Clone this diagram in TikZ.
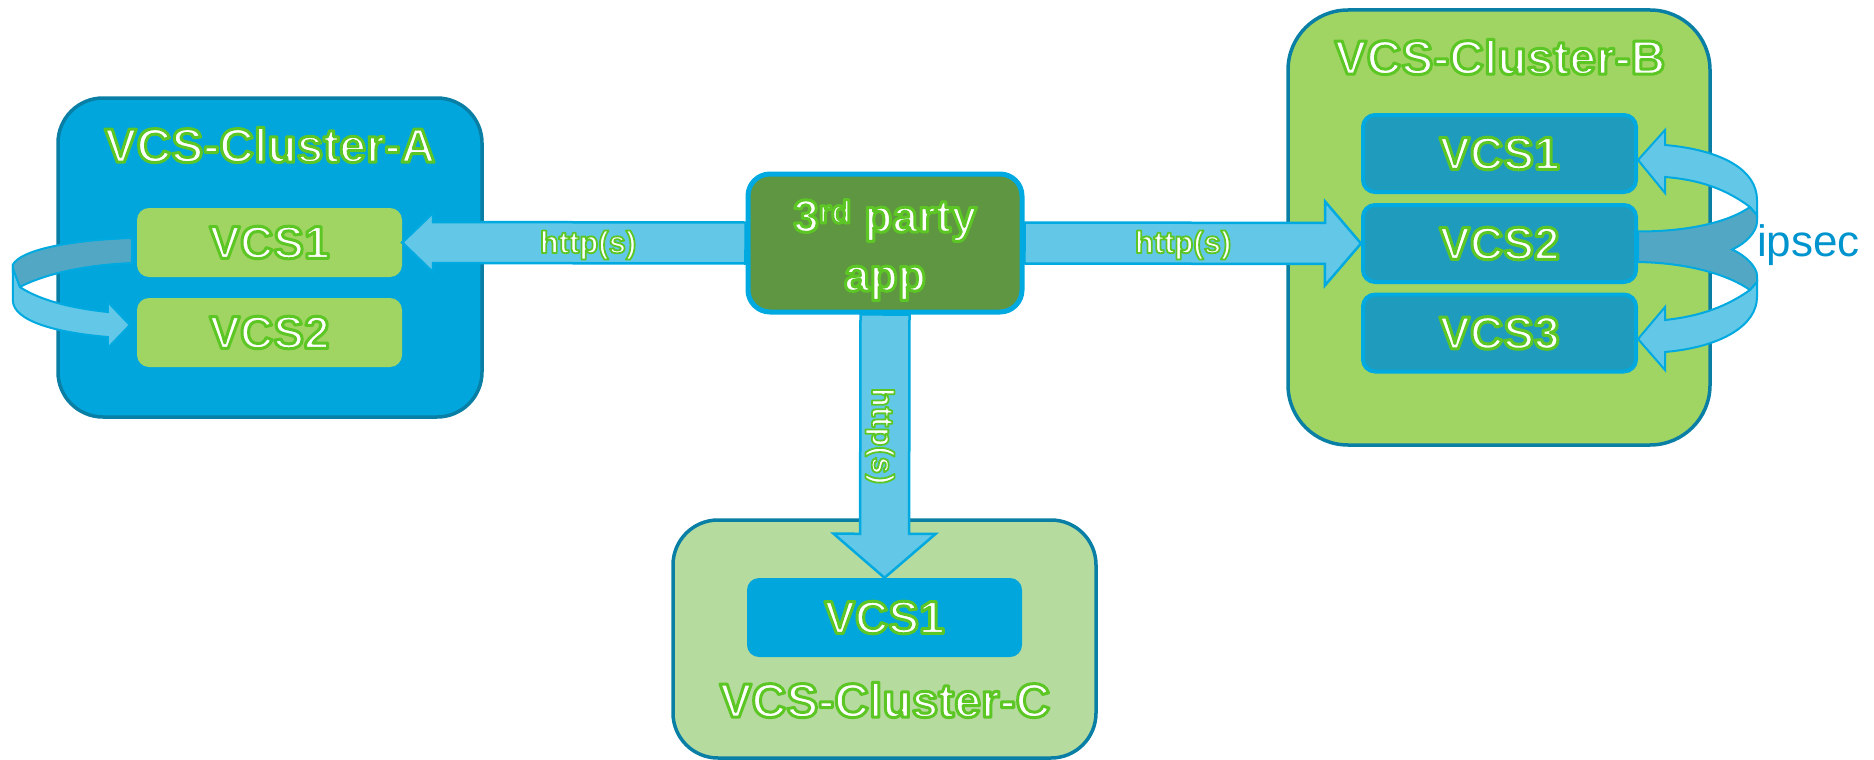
\documentclass[tikz,border=0pt]{standalone}
\usepackage{fontspec}
\setmainfont{Liberation Sans}
\usetikzlibrary{calc}

\definecolor{clusterblue}{HTML}{00A6DC}
\definecolor{clustergreen}{HTML}{A0D563}
\definecolor{palegreen}{HTML}{B5DB9F}
\definecolor{rimblue}{HTML}{0A7FA6}
\definecolor{linkblue}{HTML}{00A9E0}
\definecolor{pipefill}{HTML}{63C7E7}
\definecolor{pipeback}{HTML}{52A8C4}
\definecolor{tealbox}{HTML}{1F9BBE}
\definecolor{appgreen}{HTML}{5E9641}
\definecolor{ipsecblue}{HTML}{0094CF}

% white letters with a green rim (fill + stroke)
\newcommand{\glow}[2][3]{\special{pdf:code q 2 Tr #1 w 1 j 0.36 0.78 0.14 RG}#2\special{pdf:code Q}}
% shaft half width, head half width, head length, from, to
\newcommand{\fatarrow}[5]{%
  \coordinate (fb) at ($(#5)!#3pt!(#4)$);
  \draw[pipe] ($(#4)!#1pt!90:(#5)$) -- ($(fb)!#1pt!90:(#5)$) -- ($(fb)!#2pt!90:(#5)$) -- (#5)
    -- ($(fb)!#2pt!-90:(#5)$) -- ($(fb)!#1pt!-90:(#5)$) -- ($(#4)!#1pt!-90:(#5)$) -- cycle;
}

\tikzset{
  cluster/.style={draw=rimblue, line width=3.5pt, rounded corners=50pt, inner sep=0pt},
  vcs/.style={rounded corners=12pt, inner sep=0pt, text=white, font=\fontsize{46}{50}\selectfont\bfseries},
  title/.style={inner sep=0pt, text=white, font=\fontsize{48}{52}\selectfont\bfseries},
  proto/.style={inner sep=0pt, text=white, font=\fontsize{31}{33}\selectfont\bfseries},
  pipe/.style={draw=linkblue, fill=pipefill, line width=2.5pt},
  ribbon/.style={draw=linkblue, line width=2pt}
}

\begin{document}
\begin{tikzpicture}[x=1pt, y=-1pt]
    \useasboundingbox (0,0) rectangle (1874,760);
    % Cluster A
    \node[cluster, fill=clusterblue, minimum width=424pt, minimum height=319pt, rounded corners=45pt] (clA) at (270,257.5) {};
    \node[title] (tA) at (270,145) {\glow{VCS-Cluster-A}};
    \node[vcs, fill=clustergreen, minimum width=265pt, minimum height=69pt] (a1) at (269.5,242.5) {\glow{VCS1}};
    \node[vcs, fill=clustergreen, minimum width=265pt, minimum height=69pt] (a2) at (269.5,332.5) {\glow{VCS2}};
    % Cluster B
    \node[cluster, fill=clustergreen, minimum width=422pt, minimum height=435pt, rounded corners=60pt] (clB) at (1499,227.5) {};
    \node[title] (tB) at (1500,57) {\glow{VCS-Cluster-B}};
    \foreach \i/\y in {1/153.5,2/243.5,3/333} {
        \node[vcs, fill=tealbox, draw=linkblue, line width=4pt, minimum width=273pt, minimum height=77pt] (b\i) at (1499.5,\y) {\glow{VCS\i}};
    }
    % Cluster C
    \node[cluster, fill=palegreen, minimum width=423pt, minimum height=238pt, rounded corners=45pt] (clC) at (884.5,639) {};
    \node[vcs, fill=clusterblue, minimum width=275pt, minimum height=79pt] (c1) at (884.5,617.5) {\glow{VCS1}};
    \node[title] (tC) at (885,700) {\glow{VCS-Cluster-C}};
    % Loop inside A
    \begin{scope}[shift={(a1.west)}]
        \draw[ribbon, fill=pipeback] (-5,-4.5) .. controls (-67,-2.5) and (-117,7.5) .. (-124,22.5) -- (-124,29.5)
            -- (-117,44.5) .. controls (-92,31.5) and (-52,22.5) .. (-5,20.5) -- cycle;
        \draw[ribbon, fill=pipefill] (-117,44.5) .. controls (-97,57.5) and (-67,65.5) .. (-29,69.5) -- (-29,59.5)
            -- (-7,82.5) -- (-29,105.5) -- (-29,94.5) .. controls (-77,90.5) and (-124,79.5) .. (-124,57.5)
            -- (-124,25.5) -- cycle;
    \end{scope}
    % ipsec loops
    \begin{scope}[shift={(b2.east)}]
        \draw[ribbon, fill=pipeback] (0,-12) .. controls (54,-12) and (92,-22.5) .. (112,-36.5) -- (119,-28.5)
            -- (119,-22) .. controls (119,-12) and (108,0) .. (94,6) .. controls (108,12) and (119,24) .. (119,32)
            -- (119,38.5) -- (112,46.5) .. controls (92,32.5) and (54,19.5) .. (0,18.5) -- cycle;
        \draw[ribbon, fill=pipefill] (112,-36.5) .. controls (89,-53.5) and (64,-63.5) .. (27,-66.5) -- (27,-50.5)
            -- (0,-83.5) -- (27,-113.5) -- (27,-98.5) .. controls (84,-93.5) and (119,-73.5) .. (119,-43.5)
            -- (119,-28.5) -- cycle;
        \draw[ribbon, fill=pipefill] (112,46.5) .. controls (89,62.5) and (64,72.5) .. (27,76.5) -- (27,63.5)
            -- (0,95.5) -- (27,126.5) -- (27,108.5) .. controls (84,103.5) and (119,81.5) .. (119,53.5)
            -- (119,38.5) -- cycle;
    \end{scope}
    \node[inner sep=0pt, anchor=west, text=ipsecblue, font=\fontsize{44}{48}\selectfont] (ip) at (1757,245) {ipsec};
    % 3rd party app and links
    \node[vcs, fill=appgreen, draw=linkblue, line width=5pt, rounded corners=22pt, minimum width=274pt, minimum height=138pt] (app) at (885,243) {};
    \fatarrow{20.5}{30}{31}{app.west}{a1.east}
    \fatarrow{20.5}{42}{36}{app.east}{b2.west}
    \fatarrow{24.5}{51}{44}{app.south}{c1.north}
    \node[vcs, align=center, font=\fontsize{46}{59}\selectfont\bfseries] (appname) at (885,250) {\glow{3\textsuperscript{rd} party}\\\glow{app}};
    \node[proto] (hA) at (588,245) {\glow[1.8]{http(s)}};
    \node[proto] (hB) at (1183,245) {\glow[1.8]{http(s)}};
    \node[proto, rotate=-90] (hC) at (880,436) {\glow[1.8]{http(s)}};
\end{tikzpicture}
\end{document}
